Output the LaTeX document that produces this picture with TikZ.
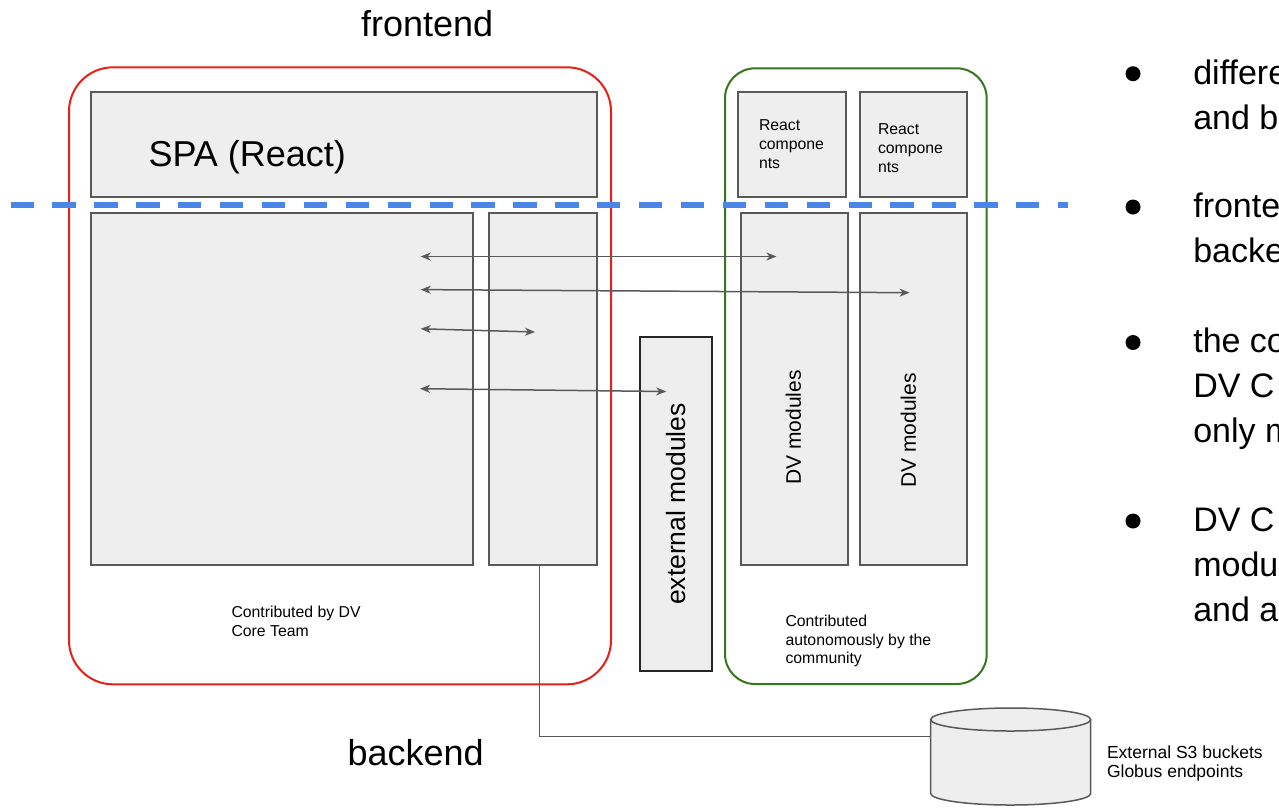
\documentclass[tikz,border=0pt]{standalone}
\usepackage{fontspec}
\setmainfont{Liberation Sans}
\usetikzlibrary{arrows.meta}
\definecolor{boxfill}{HTML}{EEEEEE}
\definecolor{boxline}{HTML}{595959}
\definecolor{redline}{HTML}{E62117}
\definecolor{greenline}{HTML}{38761D}
\definecolor{dashblue}{HTML}{4A86E8}
\newcommand{\mylines}[1]{\begin{tabular}[t]{@{}l@{}}#1\end{tabular}}
\begin{document}
\begin{tikzpicture}[x=1pt,y=-1pt,
  frame/.style={draw, line width=2pt, inner sep=0pt, outer sep=0pt, anchor=north west},
  box/.style={draw=boxline, fill=boxfill, line width=2pt, inner sep=0pt, outer sep=0pt, anchor=north west},
  extbox/.style={draw=black!85, fill=boxfill, line width=2pt, inner sep=0pt, outer sep=0pt, anchor=north west},
  txt/.style={inner sep=0pt, outer sep=0pt, anchor=base west},
  big/.style={font=\fontsize{36}{43}\selectfont},
  small/.style={font=\fontsize{15.8}{19}\selectfont},
  bullettxt/.style={txt, font=\fontsize{34}{45}\selectfont},
  dot/.style={circle, fill=black, inner sep=0pt, minimum size=15pt},
  link/.style={draw=boxline, line width=1.5pt, {Stealth[length=10pt,width=8pt,inset=3pt]}-{Stealth[length=10pt,width=8pt,inset=3pt]}},
  conn/.style={draw=boxline, line width=1.5pt},
  cyl/.style={draw=boxline, fill=boxfill, line width=1.5pt}
]
\useasboundingbox (0,0) rectangle (1279,807);
\clip (0,0) rectangle (1279,807);
\fill[white] (0,0) rectangle (1279,807);

% frames
\node[frame, draw=redline, rounded corners=44pt, minimum width=542pt, minimum height=617pt] (core) at (69,67.3) {};
\node[frame, draw=greenline, rounded corners=30pt, minimum width=261.7pt, minimum height=615.7pt] (comm) at (725,68.3) {};

% left boxes
\node[box, minimum width=506pt, minimum height=105pt] (spa) at (91,92) {};
\node[box, minimum width=382pt, minimum height=352pt] (main) at (91,213) {};
\node[box, minimum width=108pt, minimum height=352pt] (narrow) at (489,213) {};

% community boxes
\node[box, minimum width=107.7pt, minimum height=105pt] (rc1) at (738.3,91.7) {};
\node[box, minimum width=107.6pt, minimum height=105pt] (rc2) at (859.7,92) {};
\node[box, minimum width=107.6pt, minimum height=352pt] (dv1) at (740.7,213) {};
\node[box, minimum width=107.6pt, minimum height=352pt] (dv2) at (859.7,213) {};

% external modules
\node[extbox, minimum width=72.3pt, minimum height=333.4pt] (ext) at (640,337.3) {};

% texts
\node[txt, big] (fe) at (361,36.7) {frontend};
\node[txt, big] (be) at (347.5,765) {backend};
\node[txt, big] (spat) at (148.5,166.7) {SPA (React)};
\node[txt, small] (rc1t) at (759,130.7) {\mylines{React\\compone\\nts}};
\node[txt, small] (rc2t) at (878,134) {\mylines{React\\compone\\nts}};
\node[txt, font=\fontsize{15.8}{18.7}\selectfont] (coret) at (231.5,617.3) {\mylines{Contributed by DV\\Core Team}};
\node[txt, font=\fontsize{15.8}{18.3}\selectfont] (commt) at (785.5,626.7) {\mylines{Contributed\\autonomously by the\\community}};
\node[inner sep=0pt, rotate=90, font=\fontsize{21}{25}\selectfont] (dv1t) at (793.3,427.5) {DV modules};
\node[inner sep=0pt, rotate=90, font=\fontsize{21}{25}\selectfont] (dv2t) at (908.3,430.5) {DV modules};
\node[inner sep=0pt, rotate=90, font=\fontsize{26.5}{31}\selectfont] (extt) at (676,504) {external modules};

% dashed frontend/backend separator
\coordinate (dashL) at (10.5,205);
\coordinate (dashR) at (1068,205);
\draw[dashblue, line width=6pt, dash pattern=on 23.3pt off 18.6pt] (dashL) -- (dashR);

% arrows
\coordinate (a1L) at (420.7,256.5); \coordinate (a1R) at (776.4,256.5);
\coordinate (a2L) at (420.7,289.6); \coordinate (a2R) at (909.6,292.7);
\coordinate (a3L) at (420.7,328.8); \coordinate (a3R) at (535,332);
\coordinate (a4L) at (420,388.7);   \coordinate (a4R) at (666.2,391.5);
\draw[link] (a1L) -- (a1R);
\draw[link] (a2L) -- (a2R);
\draw[link] (a3L) -- (a3R);
\draw[link] (a4L) -- (a4R);

% storage cylinder
\path[cyl] (930.7,719.5) -- (930.7,793.5)
  .. controls (930.7,799.85) and (966.5,805) .. (1010.7,805)
  .. controls (1054.9,805) and (1090.7,799.85) .. (1090.7,793.5)
  -- (1090.7,719.5);
\draw[cyl] (1010.7,719.5) ellipse [x radius=80, y radius=11.5];
\coordinate (cylW) at (930.7,736.7);
\node[txt, font=\fontsize{17.5}{19}\selectfont] (s3t) at (1107,758.3) {\mylines{External S3 buckets\\Globus endpoints}};

% connector
\draw[conn] ([xshift=-3.7pt]narrow.south) |- (cylW);

% bullets
\node[dot] (b1) at (1133,73.7) {};
\node[dot] (b2) at (1133,207) {};
\node[dot] (b3) at (1133,342.5) {};
\node[dot] (b4) at (1133,521) {};
\node[bullettxt] (t1) at (1193.3,84) {\mylines{differe\\and b}};
\node[bullettxt] (t2) at (1193.3,217.3) {\mylines{fronte\\backe}};
\node[bullettxt] (t3) at (1193.3,352) {\mylines{the co\\DV C\\only m}};
\node[bullettxt] (t4) at (1193.3,531) {\mylines{DV C\\modu\\and a}};
\end{tikzpicture}
\end{document}
